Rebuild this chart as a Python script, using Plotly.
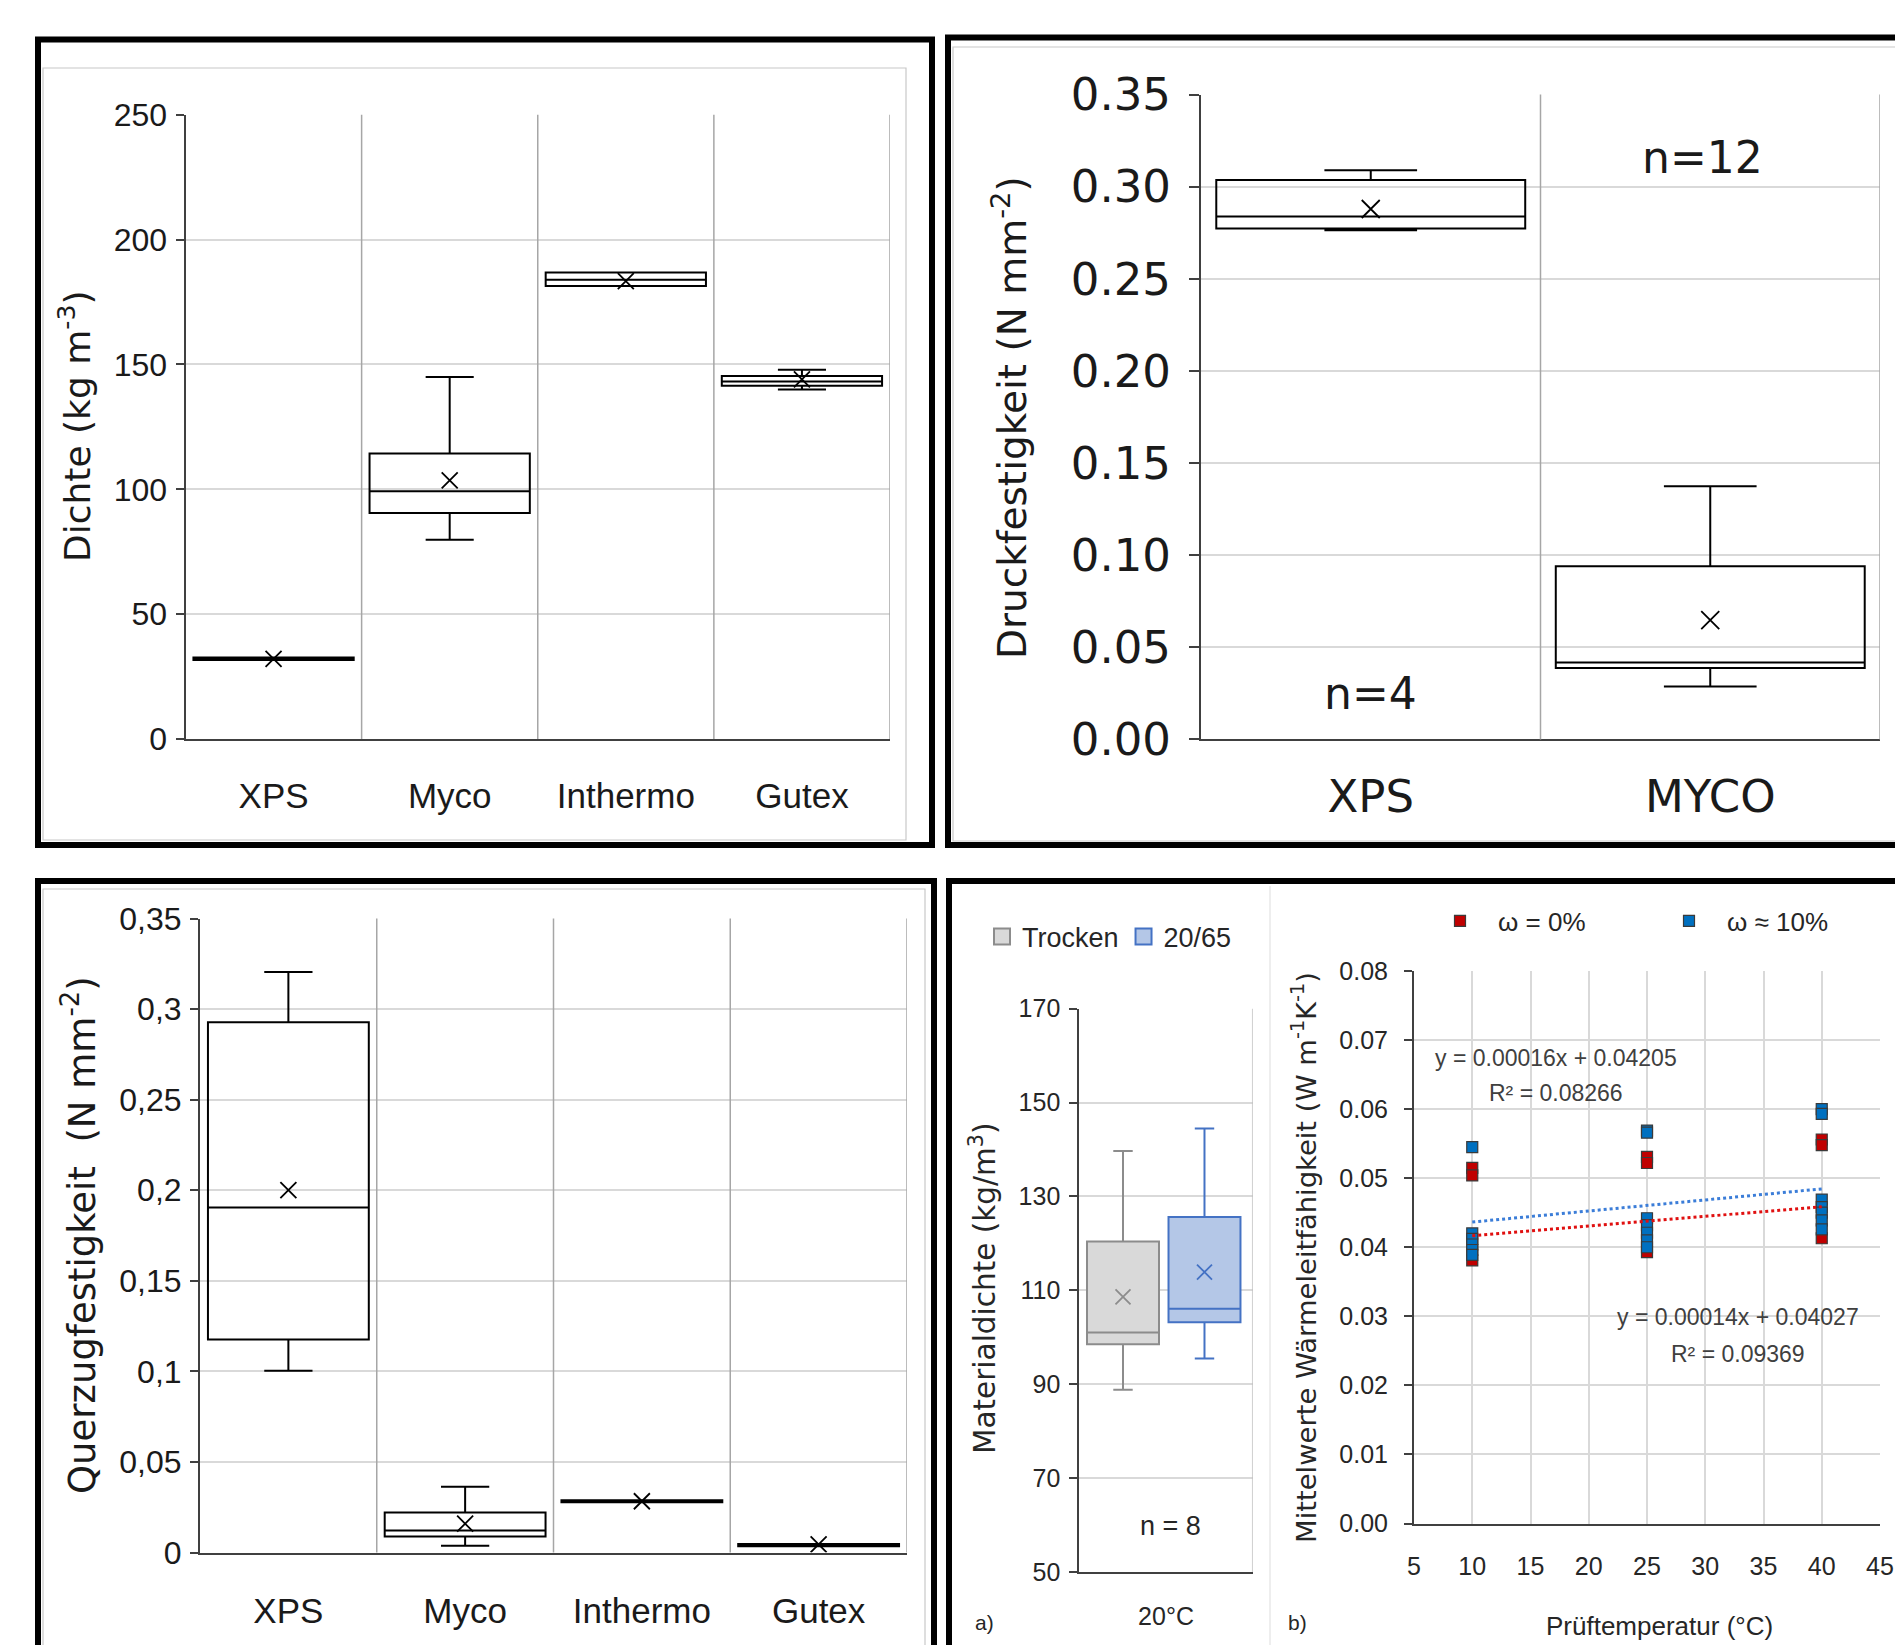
import plotly.graph_objects as go

W, H = 1903, 1645
OFF = 8  # the page body margin shifts the figure by this many pixels

# ---------------- data ----------------
# top-left: Dichte
dichte_cats = ["XPS", "Myco", "Inthermo", "Gutex"]
dichte_min = [31.6, 79.8, 181.4, 140.0]
dichte_q1 = [31.6, 90.5, 181.4, 141.5]
dichte_med = [32.1, 99.2, 183.9, 143.2]
dichte_q3 = [32.6, 114.3, 186.8, 145.4]
dichte_max = [32.6, 145.0, 186.8, 147.9]
dichte_mean = [32.1, 103.6, 183.4, 144.0]

# top-right: Druckfestigkeit
druck_cats = ["XPS", "MYCO"]
druck_min = [0.2764, 0.0287]
druck_q1 = [0.2773, 0.0388]
druck_med = [0.2839, 0.0417]
druck_q3 = [0.3037, 0.0940]
druck_max = [0.3090, 0.1374]
druck_mean = [0.2879, 0.0647]
druck_n = ["n=4", "n=12"]

# bottom-left: Querzugfestigkeit
quer_cats = ["XPS", "Myco", "Inthermo", "Gutex"]
quer_min = [0.1003, 0.0037, 0.0278, 0.0035]
quer_q1 = [0.1176, 0.0088, 0.0278, 0.0035]
quer_med = [0.1905, 0.0122, 0.0283, 0.0041]
quer_q3 = [0.2927, 0.0221, 0.0289, 0.0047]
quer_max = [0.3205, 0.0363, 0.0289, 0.0047]
quer_mean = [0.2001, 0.0159, 0.0283, 0.0045]
quer_tickvals = [0, 0.05, 0.1, 0.15, 0.2, 0.25, 0.3, 0.35]
quer_ticktext = ["0", "0,05", "0,1", "0,15", "0,2", "0,25", "0,3", "0,35"]

# bottom-right a): Materialdichte
md_groups = ["Trocken", "20/65"]
md_min = [88.8, 95.5]
md_q1 = [98.5, 103.2]
md_med = [101.0, 106.1]
md_q3 = [120.4, 125.6]
md_max = [139.7, 144.5]
md_mean = [108.6, 113.9]
md_n = "n = 8"
md_cat = "20°C"

# bottom-right b): Waermeleitfaehigkeit
red_x = [10, 10, 10, 25, 25, 25, 40, 40, 40]
red_y = [0.0515, 0.0504, 0.0381, 0.0531, 0.0522, 0.0393, 0.0556, 0.0548, 0.0413]
blue_x = [10, 10, 10, 10, 10, 10, 25, 25, 25, 25, 25, 25, 25, 40, 40, 40, 40, 40, 40, 40]
blue_y = [0.0545, 0.0420, 0.0412, 0.0404, 0.0396, 0.0389,
          0.0569, 0.0566, 0.0442, 0.0432, 0.0421, 0.0410, 0.0400,
          0.0600, 0.0593, 0.0469, 0.0458, 0.0450, 0.0439, 0.0426]
trend_x = [10, 40]
blue_slope, blue_icpt, blue_r2 = 0.00016, 0.04205, 0.08266
red_slope, red_icpt, red_r2 = 0.00014, 0.04027, 0.09369

# ---------------- style ----------------
CAL = "Liberation Sans, Arial, sans-serif"
WIDE = "DejaVu Sans, Verdana, sans-serif"
GRID = "#d9d9d9"
DIV = "#a6a6a6"
AX = "#404040"
TXT = "#1a1a1a"


def px(x):
    return (x - OFF) / W


def py(y):
    return 1 - (y - OFF) / H


fig = go.Figure()


def add_boxes(xs, lo, q1, med, q3, hi, mean, xa, ya, width, color="black", fill="rgba(0,0,0,0)",
              ww=0.3, msize=16, name="box"):
    fig.add_trace(go.Box(
        x=xs, q1=q1, median=med, q3=q3, lowerfence=lo, upperfence=hi,
        width=width, whiskerwidth=ww, fillcolor=fill,
        line=dict(color=color, width=2), boxpoints=False,
        xaxis=xa, yaxis=ya, hoverinfo="skip", name=name, showlegend=False))
    fig.add_trace(go.Scatter(
        x=xs, y=mean, mode="markers", xaxis=xa, yaxis=ya, showlegend=False, hoverinfo="skip",
        name="mean",
        marker=dict(symbol="x-thin", size=msize, color=color, line=dict(width=1.8, color=color))))


add_boxes(list(range(4)), dichte_min, dichte_q1, dichte_med, dichte_q3, dichte_max, dichte_mean,
          "x", "y", 0.91)
add_boxes(list(range(2)), druck_min, druck_q1, druck_med, druck_q3, druck_max, druck_mean,
          "x2", "y2", 0.91, msize=18)
add_boxes(list(range(4)), quer_min, quer_q1, quer_med, quer_q3, quer_max, quer_mean,
          "x3", "y3", 0.91)

md_colors = ["#8c8c8c", "#4472c4"]
md_fills = ["#d9d9d9", "#b4c7e7"]
md_pos = [0.252, 0.722]
for i in range(2):
    add_boxes([md_pos[i]], [md_min[i]], [md_q1[i]], [md_med[i]], [md_q3[i]], [md_max[i]], [md_mean[i]],
              "x4", "y4", 0.415, color=md_colors[i], fill=md_fills[i], ww=0.27, msize=15,
              name=md_groups[i])
# legend entries for the two box groups (square swatches)
for i in range(2):
    fig.add_trace(go.Scatter(x=[None], y=[None], mode="markers", name=md_groups[i], xaxis="x4", yaxis="y4",
                             legend="legend", showlegend=True, hoverinfo="skip",
                             marker=dict(symbol="square", size=16, color=md_fills[i],
                                         line=dict(width=2, color=md_colors[i]))))

# scatter b)
fig.add_trace(go.Scatter(x=red_x, y=red_y, mode="markers", name="ω = 0%", xaxis="x5", yaxis="y5",
                         legend="legend2", hoverinfo="skip",
                         marker=dict(symbol="square", size=11, color="#c00000",
                                     line=dict(width=1.2, color="#3a3a3a"))))
fig.add_trace(go.Scatter(x=blue_x, y=blue_y, mode="markers", name="ω ≈ 10%", xaxis="x5", yaxis="y5",
                         legend="legend2", hoverinfo="skip",
                         marker=dict(symbol="square", size=11, color="#0070c0",
                                     line=dict(width=1.2, color="#3a3a3a"))))
fig.add_trace(go.Scatter(x=trend_x, y=[blue_slope * v + blue_icpt for v in trend_x], mode="lines",
                         xaxis="x5", yaxis="y5", showlegend=False, hoverinfo="skip", name="trend",
                         line=dict(color="#3b7dd8", width=3, dash="dot")))
fig.add_trace(go.Scatter(x=trend_x, y=[red_slope * v + red_icpt for v in trend_x], mode="lines",
                         xaxis="x5", yaxis="y5", showlegend=False, hoverinfo="skip", name="trend",
                         line=dict(color="#e01010", width=3, dash="dot")))


# ---------------- axes ----------------
def xaxis(dom, rng, anchor, tickvals=None, ticktext=None, font=None, standoff=30, grid=False, dtick=None):
    d = dict(domain=[px(dom[0]), px(dom[1])], range=rng, anchor=anchor, automargin=False,
             showgrid=grid, gridcolor=GRID, gridwidth=1.5, zeroline=False,
             showline=True, linecolor=AX, linewidth=2, ticks="",
             tickfont=font, ticklabelstandoff=standoff, fixedrange=True)
    if tickvals is not None:
        d.update(tickmode="array", tickvals=tickvals, ticktext=ticktext)
    if dtick is not None:
        d.update(tickmode="linear", tick0=rng[0], dtick=dtick)
    return d


def yaxis(dom, rng, anchor, dtick=None, tickvals=None, ticktext=None, font=None, standoff=5,
          ticklen=8, tickformat=None):
    d = dict(domain=[py(dom[1]), py(dom[0])], range=rng, anchor=anchor, automargin=False,
             showgrid=True, gridcolor=GRID, gridwidth=1.5, zeroline=False,
             showline=True, linecolor=AX, linewidth=2, ticks="outside", ticklen=ticklen,
             tickcolor=AX, tickwidth=2, tickfont=font, ticklabelstandoff=standoff, fixedrange=True)
    if dtick is not None:
        d.update(tickmode="linear", tick0=rng[0], dtick=dtick)
    if tickvals is not None:
        d.update(tickmode="array", tickvals=tickvals, ticktext=ticktext)
    if tickformat:
        d.update(tickformat=tickformat)
    return d


f_tl_y = dict(family=CAL, size=32, color=TXT)
f_tl_x = dict(family=CAL, size=35, color=TXT)
f_tr_y = dict(family=WIDE, size=45, color=TXT)
f_tr_x = dict(family=WIDE, size=45, color=TXT)
f_br = dict(family=CAL, size=25, color="#262626")

layout = dict(
    width=W, height=H, autosize=False,
    margin=dict(l=0, r=0, t=0, b=0, pad=0, autoexpand=False),
    paper_bgcolor="white", plot_bgcolor="white",
    boxmode="overlay",
    xaxis=xaxis((185.5, 890), [-0.5, 3.5], "y", list(range(4)), dichte_cats, f_tl_x, 25),
    yaxis=yaxis((114.8, 739), [0, 250], "x", dtick=50, font=f_tl_y, standoff=2),
    xaxis2=xaxis((1201, 1880), [-0.5, 1.5], "y2", list(range(2)), druck_cats, f_tr_x, 17),
    yaxis2=yaxis((94.6, 739.4), [0, 0.35], "x2", dtick=0.05, font=f_tr_y, standoff=9, ticklen=10,
                 tickformat=".2f"),
    xaxis3=xaxis((200, 907), [-0.5, 3.5], "y3", list(range(4)), quer_cats, f_tl_x, 26),
    yaxis3=yaxis((918.5, 1552.5), [0, 0.35], "x3", tickvals=quer_tickvals, ticktext=quer_ticktext,
                 font=f_tl_y, standoff=2),
    xaxis4=xaxis((1079.3, 1252.7), [0, 1], "y4", [0.5], [md_cat], f_br, 21),
    yaxis4=yaxis((1008.7, 1572), [50, 170], "x4", dtick=20, font=f_br, standoff=4),
    xaxis5=xaxis((1414, 1880), [5, 45], "y5", font=f_br, standoff=19, grid=True, dtick=5),
    yaxis5=yaxis((971, 1523.5), [0, 0.08], "x5", dtick=0.01, font=f_br, standoff=11,
                 tickformat=".2f"),
    legend=dict(x=px(982), y=py(937), xanchor="left", yanchor="middle", orientation="h",
                font=dict(family=CAL, size=27, color="#262626"), bgcolor="rgba(0,0,0,0)",
                borderwidth=0, itemclick=False, itemdoubleclick=False),
    legend2=dict(x=px(1422), y=py(921), xanchor="left", yanchor="middle", orientation="h",
                 font=dict(family=CAL, size=26, color="#262626"), bgcolor="rgba(0,0,0,0)",
                 borderwidth=0, itemwidth=66, entrywidth=148, entrywidthmode="pixels",
                 itemclick=False, itemdoubleclick=False),
)

shapes = []


def vline(xref, yref, xv, color=DIV, width=1.5):
    shapes.append(dict(type="line", xref=xref, yref=yref + " domain", x0=xv, x1=xv, y0=0, y1=1,
                       line=dict(color=color, width=width), layer="above"))


for v in [0.5, 1.5, 2.5, 3.5]:
    vline("x", "y", v)
    vline("x3", "y3", v)
for v in [0.5, 1.5]:
    vline("x2", "y2", v)
vline("x4", "y4", 1, color="#bfbfbf")


def prect(x0, y0, x1, y1, color, width):
    shapes.append(dict(type="rect", xref="paper", yref="paper", x0=px(x0), x1=px(x1),
                       y0=py(y1), y1=py(y0), line=dict(color=color, width=width),
                       fillcolor="rgba(0,0,0,0)", layer="above"))


# faint chart-area borders
prect(43, 68, 906, 840, "#c8c8c8", 1.2)
prect(953, 47, 1940, 841, "#c8c8c8", 1.2)
prect(43, 889, 925, 1700, "#c8c8c8", 1.2)
shapes.append(dict(type="line", xref="paper", yref="paper", x0=px(1270), x1=px(1270),
                   y0=py(1700), y1=py(886), line=dict(color="#e3e3e3", width=1.2)))
# thick black panel frames
prect(38, 39.5, 932, 845, "black", 6)
prect(948, 37.5, 1940, 845, "black", 6)
prect(38, 881, 934, 1700, "black", 6)
prect(949, 881, 1940, 1700, "black", 6)
layout["shapes"] = shapes

annotations = []


def ann(text, x, y, size, family, angle=0, color=TXT):
    annotations.append(dict(text=text, x=px(x), y=py(y), xref="paper", yref="paper", showarrow=False,
                            font=dict(size=size, family=family, color=color), textangle=angle,
                            xanchor="center", yanchor="middle"))


ann("Dichte (kg m<sup>-3</sup>)", 75, 427, 36, WIDE, -90)
ann("Druckfestigkeit (N mm<sup>-2</sup>)", 1010, 418, 39, WIDE, -90)
ann("Querzugfestigkeit  (N mm<sup>-2</sup>)", 79, 1235, 37, WIDE, -90)
ann("Materialdichte (kg/m<sup>3</sup>)", 983, 1289, 29.5, WIDE, -90, "#262626")
ann("Mittelwerte Wärmeleitfähigkeit (W m<sup>-1</sup>K<sup>-1</sup>)", 1304, 1258, 27.4, WIDE, -90, "#262626")
ann("Prüftemperatur (°C)", 1659, 1626, 26, CAL, 0, "#262626")
ann(druck_n[0], 1370, 694, 44, WIDE)
ann(druck_n[1], 1702, 157, 44, WIDE)
ann(md_n, 1170, 1526, 27, CAL, 0, "#262626")
ann("a)", 984, 1622, 21, CAL, 0, "#262626")
ann("b)", 1297, 1622, 21, CAL, 0, "#262626")

# trendline equations in data coordinates of panel b
eq_style = dict(showarrow=False, xref="x5", yref="y5", font=dict(size=23, family=CAL, color="#404040"))
annotations.append(dict(text=f"y = {blue_slope:.5f}x + {blue_icpt:.5f}", x=17.2, y=0.0674, **eq_style))
annotations.append(dict(text=f"R² = {blue_r2:.5f}", x=17.2, y=0.0623, **eq_style))
annotations.append(dict(text=f"y = {red_slope:.5f}x + {red_icpt:.5f}", x=32.8, y=0.0299, **eq_style))
annotations.append(dict(text=f"R² = {red_r2:.5f}", x=32.8, y=0.0245, **eq_style))
layout["annotations"] = annotations

fig.update_layout(**layout)
fig.write_html("out.html")
